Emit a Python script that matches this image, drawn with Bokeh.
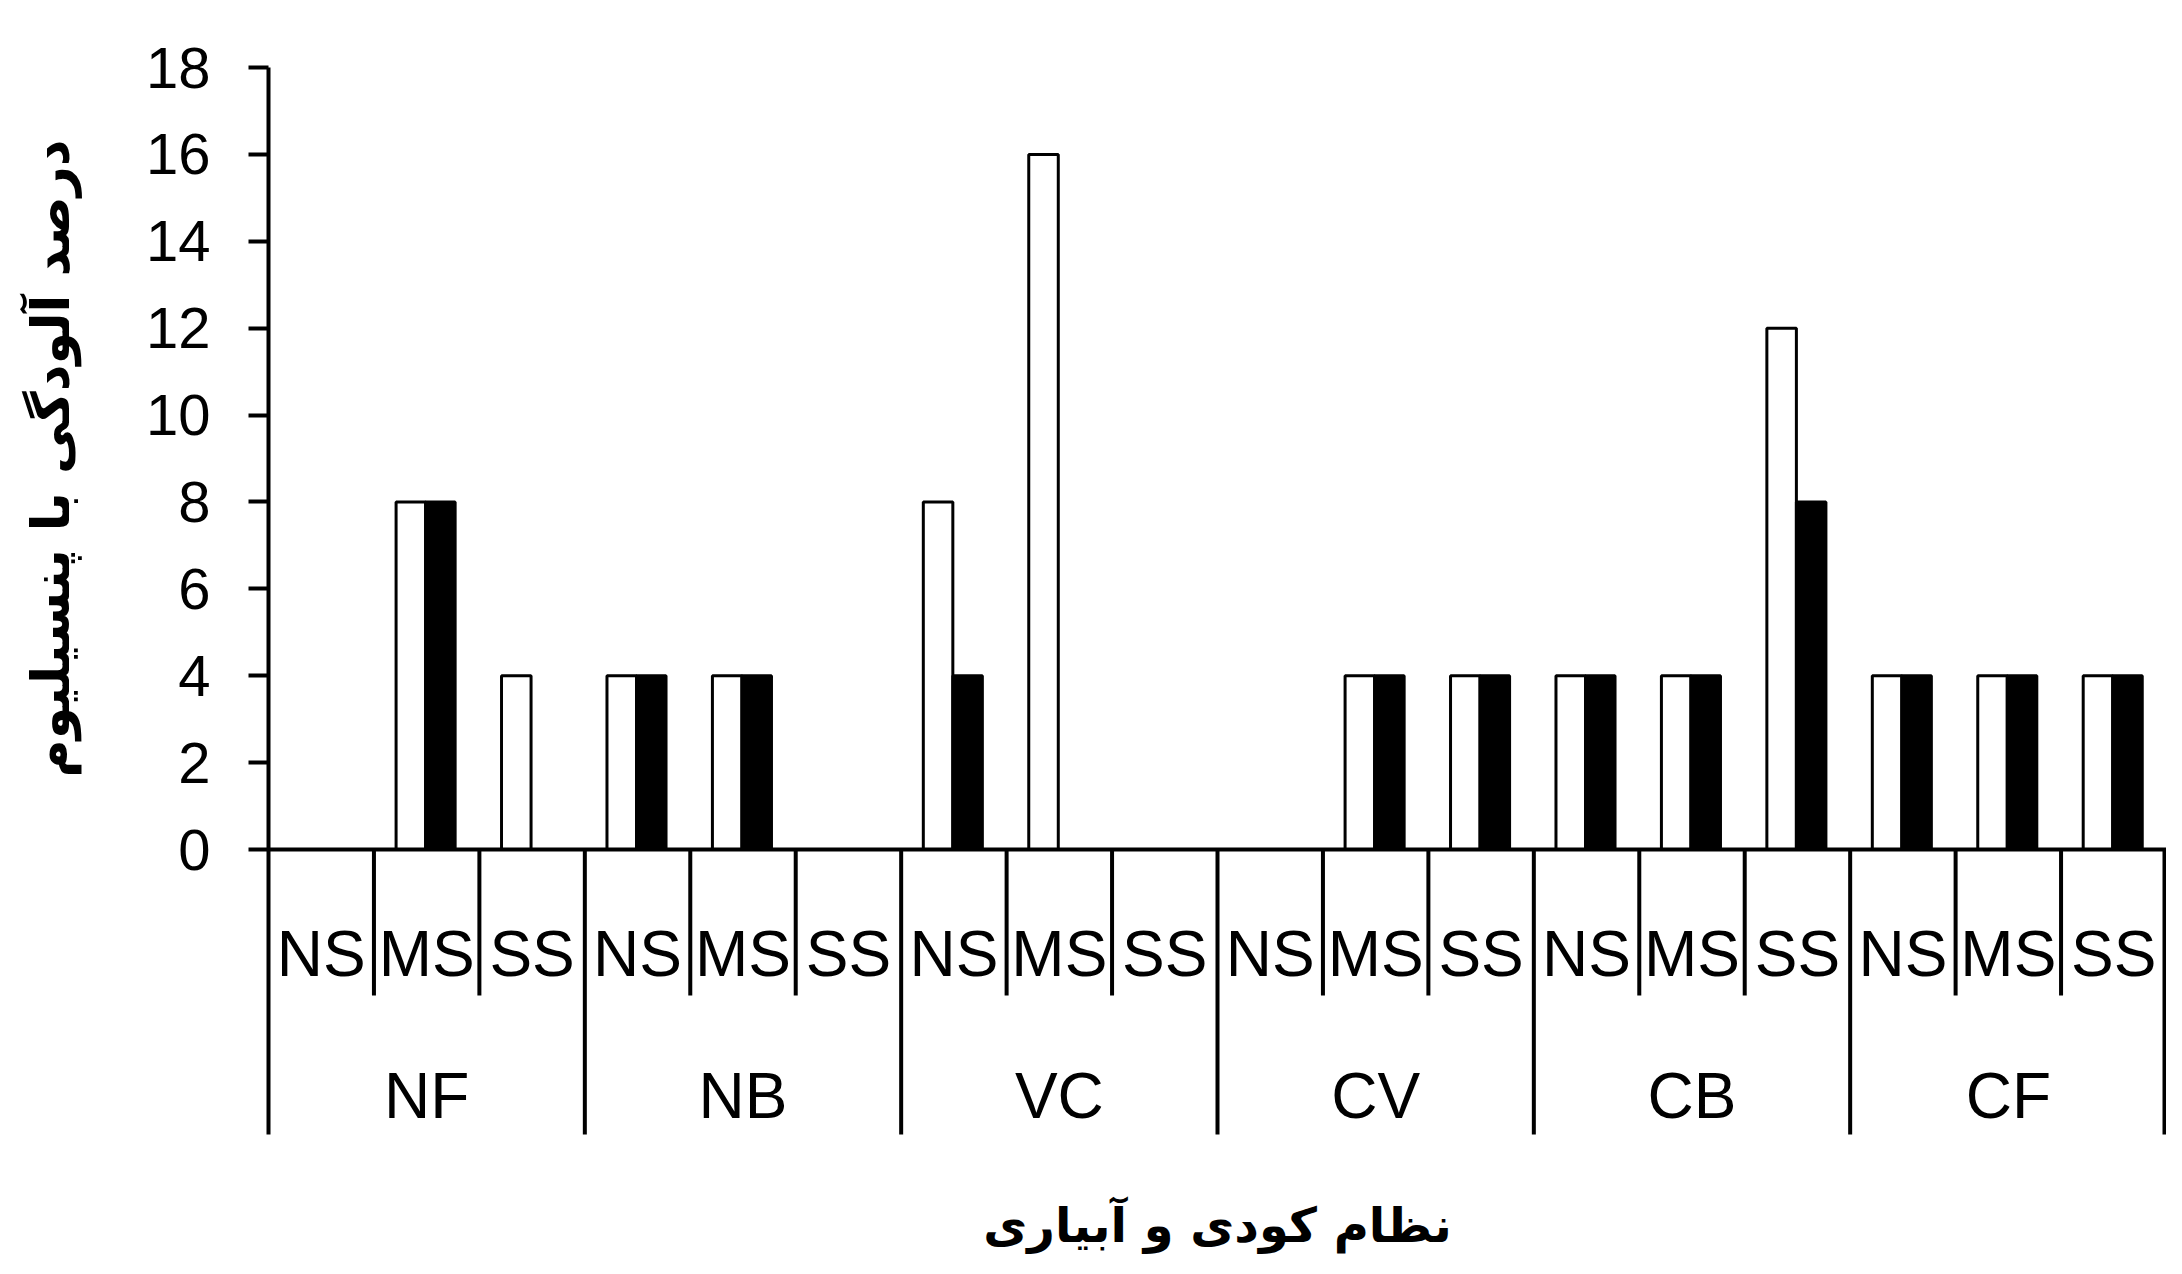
import math
from bokeh.plotting import figure
from bokeh.layouts import row
from bokeh.models import FactorRange, Range1d, FixedTicker, Span, ColumnDataSource
from bokeh.transform import dodge
from bokeh.core.properties import value
from bokeh.embed import file_html
from bokeh.resources import INLINE

# ---- data ----
groups = ["NF", "NB", "VC", "CV", "CB", "CF"]
levels = ["NS", "MS", "SS"]
white_vals = [0, 8, 4, 4, 4, 0, 8, 16, 0, 0, 4, 4, 4, 4, 12, 4, 4, 4]
black_vals = [0, 8, 0, 4, 4, 0, 4, 0, 0, 0, 4, 4, 4, 4, 8, 4, 4, 4]
y_ticks = [0, 2, 4, 6, 8, 10, 12, 14, 16, 18]
x_title = "نظام کودی و آبیاری"
y_title = "درصد آلودگی با پنسیلیوم"

factors = [(g, s) for g in groups for s in levels]
level_labels = [s for g in groups for s in levels]

# ---- layout (pixels) ----
W, H = 2166, 1258
TITLE_W = 120          # narrow figure holding the vertical title
LEFT = 268             # x of the y axis
TOP = 67               # y of the value 18
ZERO = 849             # y of the value 0
PX = (ZERO - TOP) / (y_ticks[-1] - y_ticks[0])
Y_MIN = -(H - ZERO) / PX          # frame reaches the bottom of the canvas
GROUP_BOTTOM = -(1134 - ZERO) / PX
SUB_BOTTOM = -(995 - ZERO) / PX
XTITLE_Y = -(1224 - ZERO) / PX
LW = 4

y_range = Range1d(Y_MIN, y_ticks[-1])

# ---- vertical title figure ----
t = figure(width=TITLE_W, height=H, x_range=Range1d(0, TITLE_W), y_range=y_range,
           x_axis_type=None, y_axis_type=None, output_backend="svg", toolbar_location=None,
           min_border_left=0, min_border_right=0, min_border_top=TOP, min_border_bottom=0)
t.grid.visible = False
t.outline_line_color = None
t.text(x=[50], y=[(y_ticks[0] + y_ticks[-1]) / 2], text=[y_title], angle=math.pi / 2,
       text_align="center", text_baseline="middle",
       text_font=value("DejaVu Sans"), text_font_style="bold",
       text_font_size="52px", text_color="black")

# ---- main chart ----
p = figure(width=W - TITLE_W, height=H,
           x_range=FactorRange(*factors, factor_padding=0, group_padding=0, subgroup_padding=0, range_padding=0),
           y_range=y_range,
           output_backend="svg", toolbar_location=None,
           min_border_left=LEFT - TITLE_W, min_border_right=0, min_border_top=TOP, min_border_bottom=0)
p.xgrid.visible = False
p.ygrid.visible = False
p.outline_line_color = None
p.background_fill_color = "white"
p.xaxis.visible = False

ya = p.yaxis[0]
ya.bounds = (GROUP_BOTTOM, y_ticks[-1])
ya.ticker = FixedTicker(ticks=y_ticks)
ya.minor_tick_line_color = None
ya.major_tick_out = 20
ya.major_tick_in = 0
ya.major_tick_line_width = LW
ya.axis_line_width = LW
ya.axis_line_color = "black"
ya.major_tick_line_color = "black"
ya.major_label_text_font = "Liberation Sans"
ya.major_label_text_font_size = "58px"
ya.major_label_text_color = "black"
ya.major_label_standoff = 38

p.add_layout(Span(location=0, dimension="width", line_color="black", line_width=LW))

src = ColumnDataSource(dict(x=factors, white=white_vals, black=black_vals, lab=level_labels))
p.vbar(x=dodge("x", -0.15, range=p.x_range), top="white", width=0.28, source=src,
       fill_color="white", line_color="black", line_width=3)
p.vbar(x=dodge("x", 0.13, range=p.x_range), top="black", width=0.28, source=src,
       fill_color="black", line_color="black", line_width=3)

# level labels
p.text(x="x", y=0, text="lab", source=src, y_offset=104,
       text_align="center", text_baseline="middle",
       text_font=value("Liberation Sans"), text_font_size="64px", text_color="black")
# group labels
gsrc = ColumnDataSource(dict(x=groups))
p.text(x="x", y=0, text="x", source=gsrc, y_offset=246,
       text_align="center", text_baseline="middle",
       text_font=value("Liberation Sans"), text_font_size="64px", text_color="black")

# x title, centred under the whole axis (boundary between the 3rd and 4th group)
mid = len(groups) // 2
tsrc = ColumnDataSource(dict(x=[(groups[mid - 1], levels[-1])], lab=[x_title]))
p.text(x=dodge("x", 0.5, range=p.x_range), y=XTITLE_Y, text="lab", source=tsrc,
       text_align="center", text_baseline="middle",
       text_font=value("DejaVu Sans"), text_font_style="bold",
       text_font_size="48px", text_color="black")

# dividers
sub_div = [(g, s) for g in groups for s in ["MS", "SS"]]
sdsrc = ColumnDataSource(dict(x=sub_div))
p.segment(x0=dodge("x", -0.5, range=p.x_range), x1=dodge("x", -0.5, range=p.x_range),
          y0=0, y1=SUB_BOTTOM, source=sdsrc, line_color="black", line_width=LW)
grp_div = [(g, "NS") for g in groups[1:]]
gdsrc = ColumnDataSource(dict(x=grp_div))
p.segment(x0=dodge("x", -0.5, range=p.x_range), x1=dodge("x", -0.5, range=p.x_range),
          y0=0, y1=GROUP_BOTTOM, source=gdsrc, line_color="black", line_width=LW)
edsrc = ColumnDataSource(dict(x=[(groups[-1], levels[-1])]))
p.segment(x0=dodge("x", 0.5, range=p.x_range), x1=dodge("x", 0.5, range=p.x_range),
          y0=0, y1=GROUP_BOTTOM, source=edsrc, line_color="black", line_width=2 * LW)

layout = row(t, p, spacing=0)
open("out.html", "w").write(file_html(layout, INLINE))
